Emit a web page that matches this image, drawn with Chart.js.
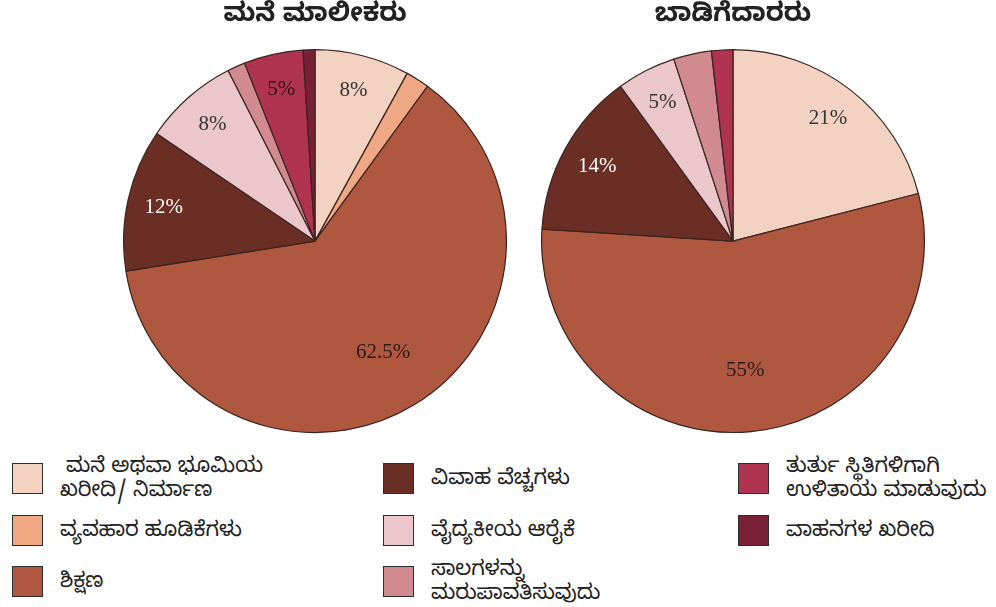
<!DOCTYPE html>
<html>
<head>
<meta charset="utf-8">
<script src="https://cdn.jsdelivr.net/npm/chart.js@4"></script>
<style>
    body { margin: 0; background: #fff; width: 996px; height: 607px; position: relative; overflow: hidden;
           font-family: "Noto Sans Kannada", "Noto Sans", sans-serif; }
    .pie { position: absolute; top: 0; }
    #legend { position: absolute; left: 0; top: 0; }
    .item { position: absolute; display: flex; align-items: center; white-space: pre; }
    .box { width: 29px; height: 29px; border: 1.5px solid #2e2e2e; flex: none; }
    .txt { margin-left: 17px; margin-top: 6px; font-size: 21px; line-height: 24px; color: #222; white-space: pre; }
</style>
</head>
<body>
<canvas id="ownersChart" class="pie" style="left:123px"></canvas>
<canvas id="tenantsChart" class="pie" style="left:541px"></canvas>
<div id="legend"></div>

<script>
// spending categories (same order in both pies)
const categories = [
    ' ಮನೆ ಅಥವಾ ಭೂಮಿಯ\nಖರೀದಿ/ ನಿರ್ಮಾಣ',
    'ವ್ಯವಹಾರ ಹೂಡಿಕೆಗಳು',
    'ಶಿಕ್ಷಣ',
    'ವಿವಾಹ ವೆಚ್ಚಗಳು',
    'ವೈದ್ಯಕೀಯ ಆರೈಕೆ',
    'ಸಾಲಗಳನ್ನು\nಮರುಪಾವತಿಸುವುದು',
    'ತುರ್ತು ಸ್ಥಿತಿಗಳಿಗಾಗಿ\nಉಳಿತಾಯ ಮಾಡುವುದು',
    'ವಾಹನಗಳ ಖರೀದಿ'
];
const ownersTitle = 'ಮನೆ ಮಾಲೀಕರು';
const tenantsTitle = 'ಬಾಡಿಗೆದಾರರು';

// percentages
const ownersValues  = [8, 2, 62.5, 12, 8, 1.5, 5, 1];
const tenantsValues = [21, 0, 55, 14, 5, 3.2, 1.8, 0];

const sliceColors = ['#F3D2C2', '#EFA883', '#B0573F', '#6A2E25', '#EBC6CA', '#D08A90', '#B0344F', '#7A2036'];
const labelColors = ['#333', '#333', '#2a1a16', '#fff', '#333', '#333', '#2a1418', '#fff'];

// percent labels inside the slices (only for slices of 5% and more)
const sliceLabels = {
    id: 'sliceLabels',
    afterDatasetsDraw(chart) {
        const ctx = chart.ctx;
        const meta = chart.getDatasetMeta(0);
        const values = chart.data.datasets[0].data;
        ctx.save();
        ctx.font = '21px "Liberation Serif", "Times New Roman", serif';
        ctx.textAlign = 'center';
        ctx.textBaseline = 'middle';
        meta.data.forEach((arc, i) => {
            const v = values[i];
            if (v < 5) return;
            const p = arc.getProps(['x', 'y', 'startAngle', 'endAngle', 'outerRadius']);
            const mid = (p.startAngle + p.endAngle) / 2;
            const r = p.outerRadius * (v > 40 ? 0.68 : 0.81);
            ctx.fillStyle = labelColors[i];
            ctx.fillText(v + '%', p.x + Math.cos(mid) * r, p.y + Math.sin(mid) * r);
        });
        ctx.restore();
    }
};

const makePie = (id, title, values) => {
    const canvas = document.getElementById(id);
    canvas.width = 384;
    canvas.height = 434;
    canvas.style.width = '384px';
    canvas.style.height = '434px';
    return new Chart(canvas, {
        type: 'pie',
        data: {
            labels: categories,
            datasets: [{
                data: values,
                backgroundColor: sliceColors,
                borderColor: '#3a2420',
                borderWidth: 1.2
            }]
        },
        options: {
            responsive: false,
            animation: false,
            layout: { padding: 0 },
            plugins: {
                legend: { display: false },
                tooltip: { enabled: false },
                title: {
                    display: true,
                    text: title,
                    color: '#222',
                    font: { size: 26, weight: 'bold', family: '"Noto Sans Kannada", "Noto Sans", sans-serif' },
                    padding: { top: 3, bottom: 14 }
                }
            }
        },
        plugins: [sliceLabels]
    });
};

makePie('ownersChart', ownersTitle, ownersValues);
makePie('tenantsChart', tenantsTitle, tenantsValues);

// legend: three columns, filled top to bottom
const legendSpots = [
    [12, 462], [12, 514], [12, 565],
    [383, 462], [383, 514], [383, 565],
    [738, 462], [738, 514]
];
const legend = document.getElementById('legend');
categories.forEach((name, i) => {
    const item = document.createElement('div');
    item.className = 'item';
    item.style.left = legendSpots[i][0] + 'px';
    item.style.top = legendSpots[i][1] + 'px';
    item.style.height = '32px';
    const box = document.createElement('div');
    box.className = 'box';
    box.style.background = sliceColors[i];
    const txt = document.createElement('div');
    txt.className = 'txt';
    txt.textContent = name;
    item.appendChild(box);
    item.appendChild(txt);
    legend.appendChild(item);
});
</script>
</body>
</html>
